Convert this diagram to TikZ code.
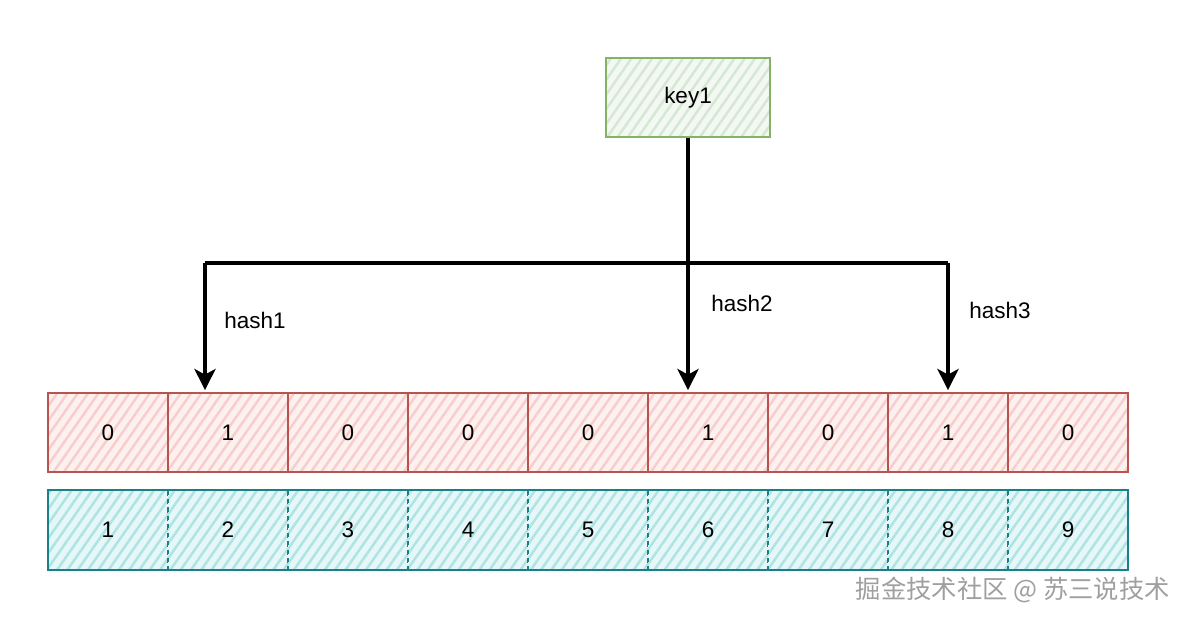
\documentclass[tikz,border=0pt]{standalone}
\usepackage{fontspec}
\setmainfont{Liberation Sans}
\newfontfamily\cjk{Noto Sans CJK SC}
\usetikzlibrary{arrows.meta,patterns.meta}

\definecolor{keyline}{HTML}{82B366}
\definecolor{keyfill}{HTML}{F3F9F2}
\definecolor{keyhatch}{HTML}{D5E8D4}
\definecolor{bitline}{HTML}{B85450}
\definecolor{bitfill}{HTML}{FDF1F0}
\definecolor{bithatch}{HTML}{F8CECC}
\definecolor{idxline}{HTML}{1A8088}
\definecolor{idxfill}{HTML}{E6F7F8}
\definecolor{idxhatch}{HTML}{B0E3E6}

\tikzset{
  hatched/.style 2 args={preaction={fill=#1},
    pattern={Lines[angle=55,distance=6pt,line width=1.8pt]}, pattern color=#2},
  keybox/.style={draw=keyline, line width=1.2pt, hatched={keyfill}{keyhatch},
    minimum width=4.1cm, minimum height=1.975cm, inner sep=0pt},
  bitcell/.style={draw=bitline, line width=1.2pt, hatched={bitfill}{bithatch},
    minimum width=3cm, minimum height=1.975cm, inner sep=0pt, outer sep=0pt},
  idxcell/.style={hatched={idxfill}{idxhatch},
    postaction={draw=idxline, line width=1.2pt, dashed},
    minimum width=3cm, minimum height=2cm, inner sep=0pt, outer sep=0pt},
  hashline/.style={line width=2.8pt},
  hashtag/.style={font=\fontsize{16}{18}\selectfont}
}

\begin{document}
\begin{tikzpicture}[>={Stealth[length=15pt,width=15pt,inset=4pt]},
    font=\fontsize{16}{18}\selectfont]

                \useasboundingbox (0,0) rectangle (29.7,15.55);

                \node[keybox] (key) at(17.2,13.11) {key1};

                % bit array
                \node[bitcell] (b1) at(2.7,4.74) {0};
                \node[bitcell] (b2) at(5.7,4.74) {1};
                \node[bitcell] (b3) at(8.7,4.74) {0};
                \node[bitcell] (b4) at(11.7,4.74) {0};
                \node[bitcell] (b5) at(14.7,4.74) {0};
                \node[bitcell] (b6) at(17.7,4.74) {1};
                \node[bitcell] (b7) at(20.7,4.74) {0};
                \node[bitcell] (b8) at(23.7,4.74) {1};
                \node[bitcell] (b9) at(26.7,4.74) {0};

                % positions
                \node[idxcell] (i1) at(2.7,2.3) {1};
                \node[idxcell] (i2) at(5.7,2.3) {2};
                \node[idxcell] (i3) at(8.7,2.3) {3};
                \node[idxcell] (i4) at(11.7,2.3) {4};
                \node[idxcell] (i5) at(14.7,2.3) {5};
                \node[idxcell] (i6) at(17.7,2.3) {6};
                \node[idxcell] (i7) at(20.7,2.3) {7};
                \node[idxcell] (i8) at(23.7,2.3) {8};
                \node[idxcell] (i9) at(26.7,2.3) {9};
                \draw[idxline, line width=1.2pt] (i1.north west) rectangle (i9.south east);

                \coordinate (split) at(17.2,8.975);
                \coordinate (h1) at(5.125,8.975);
                \coordinate (h3) at(23.7,8.975);

                \draw[hashline] (key.south) -- (split);
                \draw[hashline] (h1) -- (h3);
                \draw[hashline,->] (h1) -- ([yshift=2pt]h1 |- b2.north);
                \draw[hashline,->] (split) -- ([yshift=2pt]split |- b6.north);
                \draw[hashline,->] (h3) -- ([yshift=2pt]h3 |- b8.north);

                \node[hashtag] (t1) at(6.375,7.55) {hash1};
                \node[hashtag] (t2) at(18.55,7.975) {hash2};
                \node[hashtag] (t3) at(25.0,7.8) {hash3};

                \node[text=gray!75] (mark) at(25.32,0.8) {\cjk\fontsize{18}{20}\selectfont 掘金技术社区 @ 苏三说技术};

            \end{tikzpicture}
\end{document}
